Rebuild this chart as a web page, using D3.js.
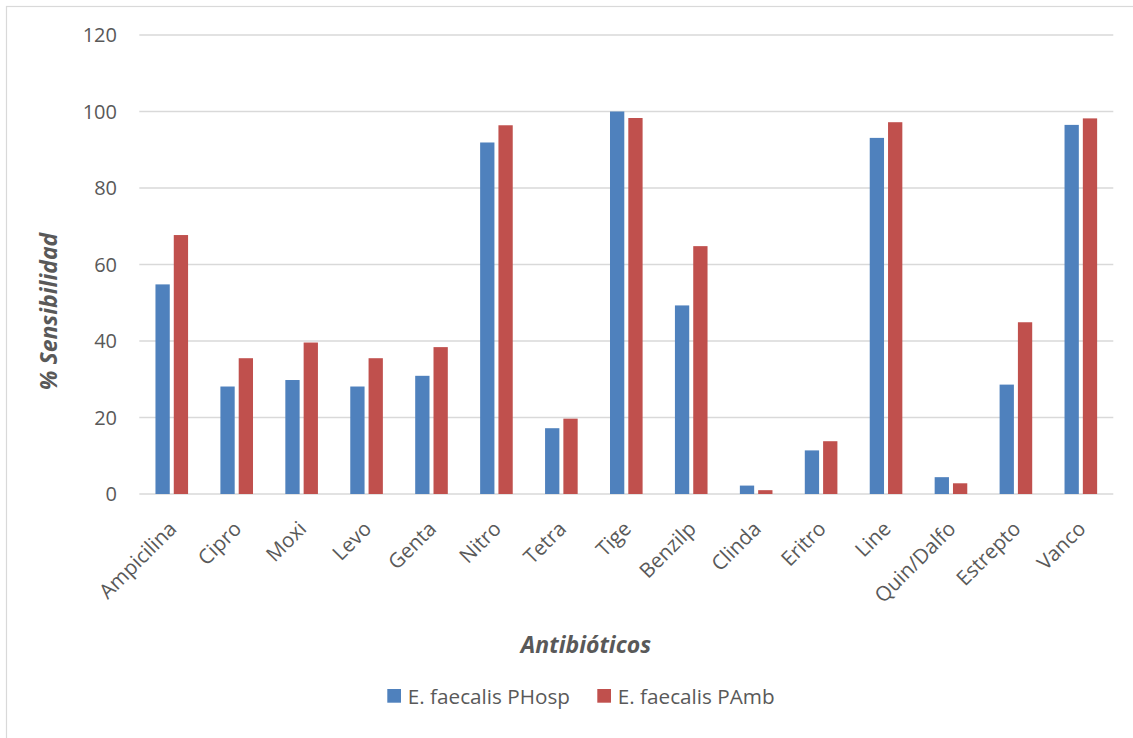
<!DOCTYPE html>
<html>
<head>
<meta charset="utf-8">
<script src="https://cdn.jsdelivr.net/npm/d3@7"></script>
<style>
  html, body { margin: 0; padding: 0; background: #fff; }
  svg { display: block; }
  text { font-family: "Open Sans", "Noto Sans", sans-serif; fill: #595959; }
</style>
</head>
<body>
<svg id="chart" width="1133" height="738"></svg>
<script>
// Antibiotic susceptibility of E. faecalis, hospital vs. outpatient isolates
const categories = ["Ampicilina", "Cipro", "Moxi", "Levo", "Genta", "Nitro", "Tetra", "Tige",
                    "Benzilp", "Clinda", "Eritro", "Line", "Quin/Dalfo", "Estrepto", "Vanco"];
const seriesNames = ["E. faecalis PHosp", "E. faecalis PAmb"];
const hospValues = [54.8, 28.1, 29.8, 28.1, 30.9, 91.9, 17.2, 100, 49.3, 2.2, 11.4, 93.1, 4.4, 28.6, 96.5];
const ambValues  = [67.7, 35.5, 39.6, 35.5, 38.4, 96.4, 19.7, 98.3, 64.8, 1.0, 13.8, 97.2, 2.8, 44.9, 98.2];
const yTicks = [0, 20, 40, 60, 80, 100, 120];
const colors = ["#4F81BD", "#C0504D"];

const seriesValues = [hospValues, ambValues];
const rows = categories.map((c, i) => ({
  cat: c,
  vals: seriesNames.map((s, k) => ({ key: s, k, value: seriesValues[k][i] }))
}));

const svg = d3.select("#chart");

// chart area outline
svg.append("rect")
  .attr("x", 6.5).attr("y", 6.5)
  .attr("width", 1300).attr("height", 900)
  .attr("fill", "none").attr("stroke", "#D9D9D9").attr("stroke-width", 1.2);

const plot = { left: 139.3, right: 1113.3, top: 35, bottom: 494 };

const x0 = d3.scaleBand().domain(categories).range([plot.left, plot.right]).padding(0);
const x1 = d3.scaleBand().domain(seriesNames).range([0, x0.bandwidth()])
  .paddingInner(0.219).paddingOuter(0.883);
const y = d3.scaleLinear().domain([0, 120]).range([plot.bottom, plot.top]);

// horizontal gridlines
svg.append("g")
  .selectAll("line")
  .data(yTicks)
  .join("line")
  .attr("x1", plot.left).attr("x2", plot.right)
  .attr("y1", d => y(d)).attr("y2", d => y(d))
  .attr("stroke", "#D9D9D9").attr("stroke-width", 1.4);

// y tick labels
svg.append("g")
  .selectAll("text")
  .data(yTicks)
  .join("text")
  .attr("x", 117)
  .attr("y", d => y(d))
  .attr("dy", "0.36em")
  .attr("text-anchor", "end")
  .style("font-size", "20px")
  .text(d => d);

// bars
const groups = svg.append("g")
  .selectAll("g")
  .data(rows)
  .join("g")
  .attr("transform", d => `translate(${x0(d.cat)},0)`);

groups.selectAll("rect")
  .data(d => d.vals)
  .join("rect")
  .attr("x", d => x1(d.key))
  .attr("width", x1.bandwidth())
  .attr("y", d => y(d.value))
  .attr("height", d => y(0) - y(d.value))
  .attr("fill", d => colors[d.k]);

// category labels, rotated
svg.append("g")
  .selectAll("text")
  .data(categories)
  .join("text")
  .attr("transform", d => `translate(${x0(d) + x0.bandwidth() / 2 + 1},${plot.bottom + 31}) rotate(-45)`)
  .attr("text-anchor", "end")
  .attr("dy", "0.35em")
  .style("font-size", "20.5px")
  .text(d => d);

// axis titles
svg.append("text")
  .attr("x", 586).attr("y", 653)
  .attr("text-anchor", "middle")
  .style("font-size", "23px").style("font-weight", "bold").style("font-style", "italic")
  .text("Antibióticos");

svg.append("text")
  .attr("transform", "translate(57,311.5) rotate(-90)")
  .attr("text-anchor", "middle")
  .style("font-size", "23px").style("font-weight", "bold").style("font-style", "italic")
  .text("% Sensibilidad");

// legend
const legendX = [387.3, 597.3];
const legend = svg.append("g")
  .selectAll("g")
  .data(seriesNames)
  .join("g")
  .attr("transform", (d, i) => `translate(${legendX[i]},689)`);
legend.append("rect")
  .attr("width", 13.7).attr("height", 13.7)
  .attr("fill", (d, i) => colors[i]);
legend.append("text")
  .attr("x", 20.5).attr("y", 14.5)
  .style("font-size", "20.7px")
  .text(d => d);
</script>
</body>
</html>
